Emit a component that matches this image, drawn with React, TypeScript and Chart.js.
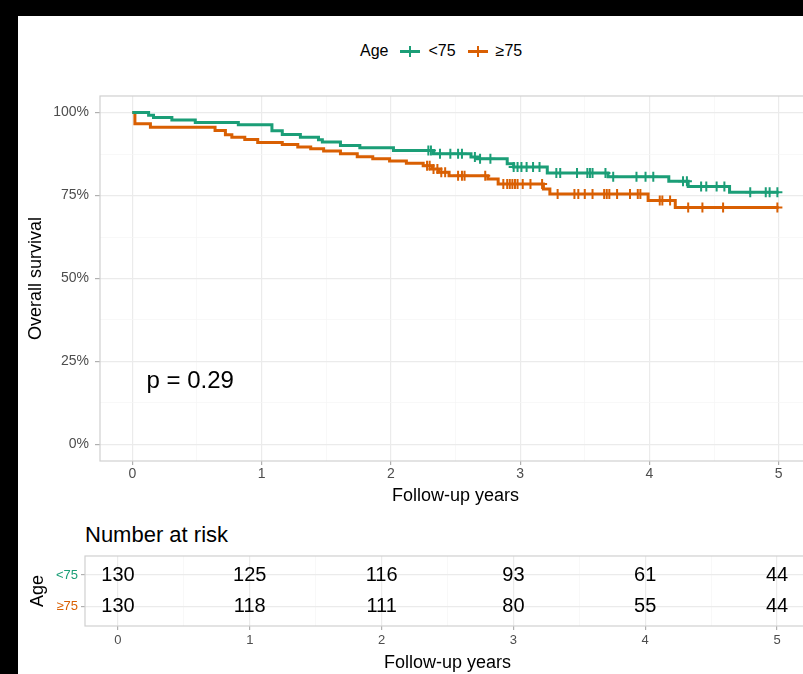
import React, { useEffect, useRef } from 'react';
import { Chart, registerables } from 'chart.js';
Chart.register(...registerables);

const FONT = '"Liberation Sans", Arial, Helvetica, sans-serif';

const groupLabels = ['<75', '≥75'];
const groupColors = ['#1B9E77', '#D95F02'];

// Kaplan-Meier steps, group <75
const youngTimes = [0, 0.126, 0.164, 0.306, 0.487, 0.82, 1.08, 1.16, 1.30, 1.44, 1.47, 1.61, 1.76, 2.02, 2.33, 2.62, 2.67, 2.90, 2.95, 3.21, 3.68, 4.15, 4.30, 4.62, 5.0];
const youngSurv = [1.0, 0.992, 0.985, 0.978, 0.970, 0.963, 0.945, 0.934, 0.926, 0.918, 0.911, 0.901, 0.894, 0.886, 0.876, 0.866, 0.861, 0.846, 0.836, 0.818, 0.807, 0.793, 0.777, 0.760, 0.760];
const youngCensor = [2.29, 2.31, 2.38, 2.46, 2.52, 2.55, 2.65, 2.69, 2.77, 2.95, 2.98, 3.01, 3.05, 3.10, 3.15, 3.28, 3.31, 3.44, 3.52, 3.54, 3.56, 3.66, 3.72, 3.90, 3.97, 4.03, 4.26, 4.29, 4.40, 4.44, 4.52, 4.58, 4.78, 4.90, 4.93, 4.99];

// Kaplan-Meier steps, group >=75
const oldTimes = [0, 0.02, 0.14, 0.64, 0.72, 0.77, 0.87, 0.97, 1.16, 1.28, 1.38, 1.48, 1.61, 1.74, 1.86, 1.99, 2.12, 2.25, 2.32, 2.37, 2.45, 2.75, 2.83, 3.18, 3.23, 3.99, 4.20, 5.0];
const oldSurv = [1.0, 0.966, 0.956, 0.946, 0.933, 0.926, 0.919, 0.910, 0.904, 0.896, 0.891, 0.884, 0.876, 0.867, 0.861, 0.854, 0.847, 0.840, 0.830, 0.820, 0.810, 0.800, 0.785, 0.770, 0.755, 0.735, 0.714, 0.714];
const oldCensor = [2.28, 2.30, 2.33, 2.36, 2.39, 2.42, 2.52, 2.55, 2.57, 2.73, 2.87, 2.90, 2.92, 2.94, 2.96, 2.98, 3.02, 3.08, 3.17, 3.29, 3.42, 3.45, 3.50, 3.56, 3.65, 3.67, 3.69, 3.75, 3.85, 3.91, 3.93, 4.08, 4.10, 4.16, 4.30, 4.41, 4.57, 4.99];

const pValueText = 'p = 0.29';
const pValuePos = [0.11, 19];

// axis ticks
const xTickValues = [0, 0.5, 1, 1.5, 2, 2.5, 3, 3.5, 4, 4.5, 5];
const yTickValues = [0, 12.5, 25, 37.5, 50, 62.5, 75, 87.5, 100];

// number at risk
const riskTimes = [0, 1, 2, 3, 4, 5];
const riskYoung = [130, 125, 116, 93, 61, 44];
const riskOld = [130, 118, 111, 80, 55, 44];

const TICK_COLOR = '#4D4D4D';
const GRID_MAJOR = '#EBEBEB';
const GRID_MINOR = '#F5F5F5';

function survAt(times: number[], surv: number[], t: number) {
  let v = surv[0];
  for (let i = 0; i < times.length; i++) if (times[i] <= t) v = surv[i];
  return v;
}

const isMajor = (v: number) => Number.isInteger(v);
const isMajorY = (v: number) => v % 25 === 0;

const panelBorder = {
  id: 'panelBorder',
  beforeDatasetsDraw(chart: any) {
    const { ctx, chartArea: a } = chart;
    ctx.save();
    ctx.strokeStyle = '#D0D0D0';
    ctx.lineWidth = 1.2;
    ctx.strokeRect(a.left, a.top, a.right - a.left, a.bottom - a.top);
    ctx.restore();
  },
};

const pValuePlugin = {
  id: 'pValue',
  afterDatasetsDraw(chart: any) {
    const { ctx, scales } = chart;
    ctx.save();
    ctx.font = `24px ${FONT}`;
    ctx.fillStyle = '#000';
    ctx.textAlign = 'left';
    ctx.textBaseline = 'middle';
    ctx.fillText(pValueText, scales.x.getPixelForValue(pValuePos[0]), scales.y.getPixelForValue(pValuePos[1]));
    ctx.restore();
  },
};

const riskPlugin = {
  id: 'riskNumbers',
  afterDatasetsDraw(chart: any) {
    const { ctx, scales } = chart;
    ctx.save();
    ctx.font = `20px ${FONT}`;
    ctx.fillStyle = '#000';
    ctx.textAlign = 'center';
    ctx.textBaseline = 'middle';
    riskTimes.forEach((t, i) => {
      const x = scales.x.getPixelForValue(t);
      ctx.fillText(String(riskYoung[i]), x, scales.y.getPixelForValue(2));
      ctx.fillText(String(riskOld[i]), x, scales.y.getPixelForValue(1));
    });
    ctx.restore();
  },
};

function curve(times: number[], surv: number[]) {
  return times.map((t, i) => ({ x: t, y: surv[i] * 100 }));
}
function censorPts(times: number[], surv: number[], cens: number[]) {
  return cens.map((t) => ({ x: t, y: survAt(times, surv, t) * 100 }));
}

export default function App() {
  const mainRef = useRef<HTMLCanvasElement>(null);
  const tableRef = useRef<HTMLCanvasElement>(null);

  useEffect(() => {
    const main = new Chart(mainRef.current as HTMLCanvasElement, {
      type: 'line',
      data: {
        datasets: [
          {
            label: groupLabels[0],
            data: curve(youngTimes, youngSurv),
            stepped: 'before',
            borderColor: groupColors[0],
            borderWidth: 3,
            pointRadius: 0,
            fill: false,
          },
          {
            label: groupLabels[1],
            data: curve(oldTimes, oldSurv),
            stepped: 'before',
            borderColor: groupColors[1],
            borderWidth: 3,
            pointRadius: 0,
            fill: false,
          },
          {
            type: 'scatter',
            label: groupLabels[0] + ' censored',
            data: censorPts(youngTimes, youngSurv, youngCensor),
            showLine: false,
            pointStyle: 'cross',
            pointRadius: 5,
            pointBorderWidth: 2,
            borderColor: groupColors[0],
            backgroundColor: groupColors[0],
          },
          {
            type: 'scatter',
            label: groupLabels[1] + ' censored',
            data: censorPts(oldTimes, oldSurv, oldCensor),
            showLine: false,
            pointStyle: 'cross',
            pointRadius: 5,
            pointBorderWidth: 2,
            borderColor: groupColors[1],
            backgroundColor: groupColors[1],
          },
        ] as any,
      },
      options: {
        animation: false,
        responsive: false,
        events: [],
        layout: { padding: { top: 16, right: 7, left: 0, bottom: 0 } },
        plugins: { legend: { display: false }, tooltip: { enabled: false } },
        scales: {
          x: {
            type: 'linear',
            min: -0.25,
            max: 5.25,
            afterBuildTicks: (s: any) => {
              s.ticks = xTickValues.map((v) => ({ value: v }));
            },
            afterFit: (s: any) => {
              s.height = 47;
            },
            ticks: {
              autoSkip: false,
              maxRotation: 0,
              padding: 1,
              color: TICK_COLOR,
              font: { family: FONT, size: 14 },
              callback: (v: any) => (isMajor(Number(v)) ? String(v) : ''),
            },
            grid: {
              color: (c: any) => (isMajor(c.tick.value) ? GRID_MAJOR : GRID_MINOR),
              lineWidth: (c: any) => (isMajor(c.tick.value) ? 1.2 : 0.7),
              tickColor: (c: any) => (isMajor(c.tick.value) ? '#B0B0B0' : 'rgba(0,0,0,0)'),
              tickLength: 4,
            },
            border: { display: false },
            title: {
              display: true,
              text: 'Follow-up years',
              color: '#000',
              font: { family: FONT, size: 18 },
              padding: { top: 2, bottom: 1 },
            },
          },
          y: {
            type: 'linear',
            min: -5,
            max: 105,
            afterBuildTicks: (s: any) => {
              s.ticks = yTickValues.map((v) => ({ value: v }));
            },
            afterFit: (s: any) => {
              s.width = 82;
            },
            ticks: {
              autoSkip: false,
              padding: 6,
              color: TICK_COLOR,
              font: { family: FONT, size: 14 },
              callback: (v: any) => (isMajorY(Number(v)) ? `${v}%` : ''),
            },
            grid: {
              color: (c: any) => (isMajorY(c.tick.value) ? GRID_MAJOR : GRID_MINOR),
              lineWidth: (c: any) => (isMajorY(c.tick.value) ? 1.2 : 0.7),
              tickColor: (c: any) => (isMajorY(c.tick.value) ? '#B0B0B0' : 'rgba(0,0,0,0)'),
              tickLength: 5,
            },
            border: { display: false },
            title: {
              display: true,
              text: 'Overall survival',
              color: '#000',
              font: { family: FONT, size: 18 },
              padding: { top: 7, bottom: 0 },
            },
          },
        },
      } as any,
      plugins: [panelBorder, pValuePlugin],
    });

    const table = new Chart(tableRef.current as HTMLCanvasElement, {
      type: 'scatter',
      data: {
        datasets: [
          {
            label: 'at risk',
            data: riskTimes.map((t) => ({ x: t, y: 2 })),
            pointRadius: 0,
          },
        ],
      },
      options: {
        animation: false,
        responsive: false,
        events: [],
        layout: { padding: { top: 16, right: 8, left: 0, bottom: 0 } },
        plugins: { legend: { display: false }, tooltip: { enabled: false } },
        scales: {
          x: {
            type: 'linear',
            min: -0.25,
            max: 5.25,
            afterBuildTicks: (s: any) => {
              s.ticks = xTickValues.map((v) => ({ value: v }));
            },
            afterFit: (s: any) => {
              s.height = 48;
            },
            ticks: {
              autoSkip: false,
              maxRotation: 0,
              padding: 3,
              color: TICK_COLOR,
              font: { family: FONT, size: 13 },
              callback: (v: any) => (isMajor(Number(v)) ? String(v) : ''),
            },
            grid: {
              color: (c: any) => (isMajor(c.tick.value) ? GRID_MAJOR : GRID_MINOR),
              lineWidth: (c: any) => (isMajor(c.tick.value) ? 1.2 : 0.7),
              tickColor: (c: any) => (isMajor(c.tick.value) ? '#B0B0B0' : 'rgba(0,0,0,0)'),
              tickLength: 4,
            },
            border: { display: false },
            title: {
              display: true,
              text: 'Follow-up years',
              color: '#000',
              font: { family: FONT, size: 18 },
              padding: { top: 1, bottom: 0 },
            },
          },
          y: {
            type: 'linear',
            min: 0.4,
            max: 2.6,
            afterBuildTicks: (s: any) => {
              s.ticks = [{ value: 1 }, { value: 2 }];
            },
            afterFit: (s: any) => {
              s.width = 67;
            },
            ticks: {
              autoSkip: false,
              padding: 3,
              color: (c: any) => (c.tick && c.tick.value === 2 ? groupColors[0] : groupColors[1]),
              font: { family: FONT, size: 13 },
              callback: (v: any) => (Number(v) === 2 ? groupLabels[0] : groupLabels[1]),
            },
            grid: {
              color: GRID_MAJOR,
              lineWidth: 1.2,
              tickColor: '#B0B0B0',
              tickLength: 4,
            },
            border: { display: false },
            title: {
              display: true,
              text: 'Age',
              color: '#000',
              font: { family: FONT, size: 18 },
              padding: { top: 9, bottom: 0 },
            },
          },
        },
      } as any,
      plugins: [panelBorder, riskPlugin],
    });

    return () => {
      main.destroy();
      table.destroy();
    };
  }, []);

  const legendSymbol = (color: string) => (
    <span style={{ position: 'relative', display: 'inline-block', width: 20, height: 12, marginLeft: 12, marginRight: 8 }}>
      <span style={{ position: 'absolute', left: 0, top: 5, width: 20, height: 3, background: color }} />
      <span style={{ position: 'absolute', left: 9, top: 1, width: 2, height: 11, background: color }} />
    </span>
  );

  return (
    <div style={{ position: 'absolute', left: 0, top: 0, width: 803, height: 674, background: '#000', overflow: 'hidden' }}>
      <div style={{ position: 'absolute', left: 18, top: 16, width: 785, height: 658, background: '#fff' }} />
      <div
        style={{
          position: 'absolute',
          left: 360,
          top: 41,
          height: 20,
          display: 'flex',
          alignItems: 'center',
          fontFamily: FONT,
          fontSize: 16,
          color: '#000',
          whiteSpace: 'nowrap',
        }}
      >
        <span>Age</span>
        {legendSymbol(groupColors[0])}
        <span>{groupLabels[0]}</span>
        {legendSymbol(groupColors[1])}
        <span>{groupLabels[1]}</span>
      </div>
      <canvas
        ref={mainRef}
        width={800}
        height={428}
        style={{ position: 'absolute', left: 18, top: 80, width: 800, height: 428 }}
      />
      <div
        style={{
          position: 'absolute',
          left: 85,
          top: 523,
          fontFamily: FONT,
          fontSize: 22,
          lineHeight: '24px',
          color: '#000',
          whiteSpace: 'nowrap',
        }}
      >
        Number at risk
      </div>
      <canvas
        ref={tableRef}
        width={800}
        height={134}
        style={{ position: 'absolute', left: 18, top: 540, width: 800, height: 134 }}
      />
    </div>
  );
}
